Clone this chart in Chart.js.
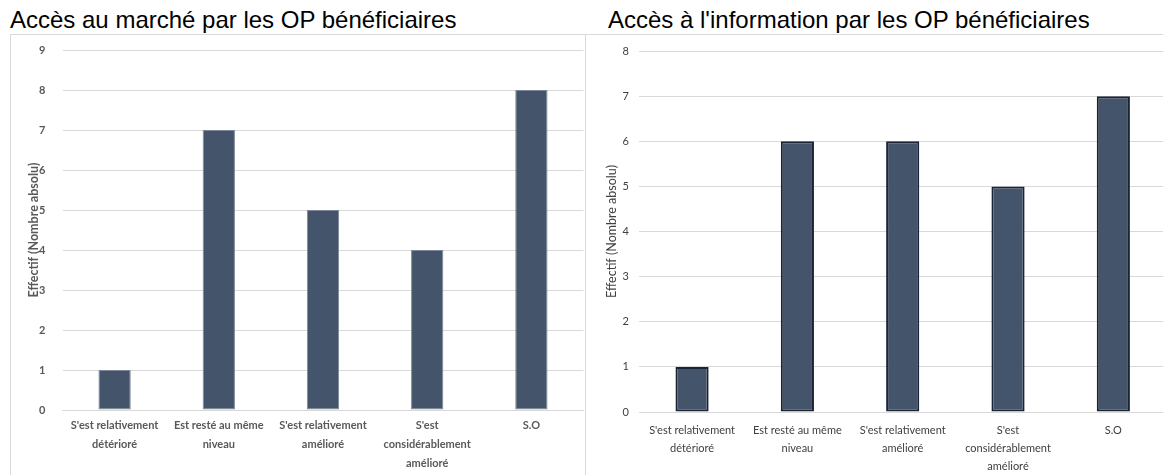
<!DOCTYPE html>
<html lang="fr">
<head>
<meta charset="utf-8">
<title>Accès au marché et à l'information des OP bénéficiaires</title>
<script src="https://cdn.jsdelivr.net/npm/chart.js@4/dist/chart.umd.min.js"></script>
<style>
  html, body { margin: 0; padding: 0; background: #ffffff; overflow: hidden; width: 1163px; height: 475px; }
  .title { position: absolute; font-family: "Liberation Sans", Arial, sans-serif; font-size: 24px; color: #000; white-space: nowrap; line-height: 1; }
  .frame { position: absolute; box-sizing: border-box; border: 1px solid #d9d9d9; border-bottom: none; }
  .wrap { position: absolute; }
  canvas { display: block; }
</style>
</head>
<body>
<div class="title" style="left:10px; top:8px;">Accès au marché par les OP bénéficiaires</div>
<div class="title" style="left:608px; top:8px;">Accès à l'information par les OP bénéficiaires</div>

<div class="frame" style="left:10px; top:34px; width:576px; height:445px;"></div>
<div class="frame" style="left:585px; top:34px; width:600px; height:445px; border-right:none;"></div>

<div class="wrap" style="left:10px; top:34px; width:575px; height:441px;"><canvas id="marche"></canvas></div>
<div class="wrap" style="left:586px; top:34px; width:584px; height:441px;"><canvas id="info"></canvas></div>

<script>
// Response categories (shared by both charts)
const categories = [
  ["S'est relativement", "détérioré"],
  ["Est resté au même", "niveau"],
  ["S'est relativement", "amélioré"],
  ["S'est", "considérablement", "amélioré"],
  "S.O"
];

// Number of beneficiary producer organisations per answer
const marcheValues = [1, 7, 5, 4, 8];
const infoValues = [1, 6, 6, 5, 7];

// Y axis ranges
const marcheMax = 9;
const infoMax = 8;

const yTitle = "Effectif (Nombre absolu)";
const FONT = "Lato, 'Open Sans', sans-serif";

function buildChart(id, values, yMax, cfg) {
  return new Chart(document.getElementById(id), {
    type: 'bar',
    data: {
      labels: categories,
      datasets: [{
        data: values,
        backgroundColor: '#44546a',
        borderColor: cfg.barBorder,
        borderWidth: cfg.barBorderWidth,
        borderSkipped: false,
        categoryPercentage: 1,
        barPercentage: cfg.barPct
      }]
    },
    options: {
      responsive: true,
      maintainAspectRatio: false,
      animation: false,
      events: [],
      layout: { padding: { top: cfg.top, right: cfg.right, bottom: 0, left: 0 } },
      plugins: { legend: { display: false }, tooltip: { enabled: false }, title: { display: false } },
      scales: {
        x: {
          grid: { display: false, drawTicks: false },
          border: { display: true, color: '#d9d9d9', width: 1 },
          ticks: {
            color: cfg.textColor,
            padding: cfg.xPad,
            maxRotation: 0,
            autoSkip: false,
            font: { family: FONT, size: 11, weight: cfg.weight, lineHeight: cfg.xLine }
          },
          afterFit: (s) => { s.height = cfg.xHeight; s.paddingLeft = 0; s.paddingRight = 0; }
        },
        y: {
          min: 0,
          max: yMax,
          ticks: {
            stepSize: 1,
            color: cfg.textColor,
            padding: cfg.yPad,
            font: { family: FONT, size: 11, weight: cfg.weight }
          },
          grid: { color: '#d9d9d9', lineWidth: 1, drawTicks: false },
          border: { display: false },
          title: {
            display: true,
            text: yTitle,
            color: cfg.textColor,
            padding: { top: cfg.titlePad, bottom: 0 },
            font: { family: FONT, size: 12.5, weight: cfg.weight, lineHeight: 1.2 }
          },
          afterFit: (s) => { s.width = cfg.yWidth; s.paddingTop = 0; s.paddingBottom = 0; }
        }
      }
    }
  });
}

buildChart('marche', marcheValues, marcheMax, {
  barBorder: '#7d889a', barBorderWidth: 1, barPct: 0.31,
  top: 16, right: 1.5, yWidth: 52.5, xHeight: 65,
  textColor: '#595959', weight: 'bold',
  xPad: 6, xLine: 1.72, yPad: 17, titlePad: 16.5
});

buildChart('info', infoValues, infoMax, {
  barBorder: '#1b2434', barBorderWidth: 2, barPct: 0.315,
  top: 17, right: 4, yWidth: 53.4, xHeight: 63,
  textColor: '#404040', weight: 'normal',
  xPad: 10, xLine: 1.6, yPad: 10.5, titlePad: 18
});
</script>
</body>
</html>
